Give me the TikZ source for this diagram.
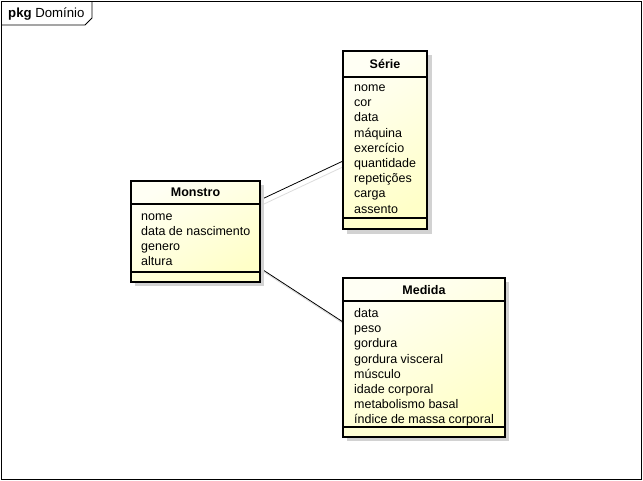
\documentclass[tikz,border=0pt]{standalone}
\usepackage{fontspec}
\setmainfont{Liberation Sans}
\usetikzlibrary{calc}
\definecolor{clsTop}{HTML}{FFFFF4}
\definecolor{clsBot}{HTML}{FFFFC8}
\definecolor{shadowGray}{HTML}{D2D2D2}
\definecolor{lineShadow}{HTML}{DCDCDC}
\begin{document}
\begin{tikzpicture}[x=1pt,y=-1pt,
  classbox/.style={draw=black, line width=1.6pt, shading=axis, top color=clsTop, bottom color=clsBot, shading angle=30,
     inner sep=0pt, outer sep=0pt, anchor=north west},
  boxshadow/.style={fill=shadowGray, draw=none},
  sepline/.style={draw=black, line width=1.1pt},
  attr/.style={anchor=base west, inner sep=0pt, font=\fontsize{12.5}{14}\selectfont},
  ctitle/.style={anchor=base, inner sep=0pt, font=\fontsize{12.5}{14}\selectfont\bfseries},
  assoc/.style={draw=black, line width=0.8pt},
  assocshadow/.style={draw=lineShadow, line width=0.8pt}]

\useasboundingbox (0,0) rectangle (643,480);
\fill[white] (0,0) rectangle (643,480);

% package frame
\node[draw=black, line width=0.9pt, minimum width=640pt, minimum height=478pt, inner sep=0pt, anchor=north west] (frame) at (1,1) {};
\draw[line width=0.9pt] (1,25) -- (85,25) -- (92,18) -- (92,1);
\node[anchor=base west, inner sep=0pt, font=\fontsize{13.2}{15}\selectfont] (ptitle) at (8,17.5) {\textbf{pkg} Domínio};

% connector coordinates
\coordinate (m1) at (260,200);
\coordinate (m2) at (260,268);
\coordinate (s1) at (343,161);
\coordinate (d1) at (343,322);

% connector shadows
\draw[assocshadow] ($(m1)+(4,4)$) -- ($(s1)+(4,4)$);
\draw[assocshadow] ($(m2)+(4,4)$) -- ($(d1)+(4,4)$);
% connectors
\draw[assoc] (m1) -- (s1);
\draw[assoc] (m2) -- (d1);

% ---- Série ----
\fill[boxshadow] (347,55) rectangle (432,234);
\node[classbox, minimum width=84pt, minimum height=178pt] (serie) at (343,51) {};
\draw[sepline] (343,77) -- (427,77);
\draw[sepline] (343,218) -- (427,218);
\node[ctitle] (serieT) at (385,68.5) {Série};
\foreach \t [count=\i from 0] in {nome,cor,data,máquina,exercício,quantidade,repetições,carga,assento}
  \node[attr] (serieA\i) at (354,{91.5+15.2*\i}) {\t};

% ---- Monstro ----
\fill[boxshadow] (135,185) rectangle (264,286);
\node[classbox, minimum width=129pt, minimum height=101pt] (mon) at (131,181) {};
\draw[sepline] (131,204) -- (260,204);
\draw[sepline] (131,272) -- (260,272);
\node[ctitle] (monT) at (195.5,196.5) {Monstro};
\foreach \t [count=\i from 0] in {nome,data de nascimento,genero,altura}
  \node[attr] (monA\i) at (141,{220.5+15.1*\i}) {\t};

% ---- Medida ----
\fill[boxshadow] (347,282) rectangle (509,441);
\node[classbox, minimum width=162pt, minimum height=159pt] (med) at (343,278) {};
\draw[sepline] (343,301) -- (505,301);
\draw[sepline] (343,427) -- (505,427);
\node[ctitle] (medT) at (424,294.5) {Medida};
\foreach \t [count=\i from 0] in {data,peso,gordura,gordura visceral,músculo,idade corporal,metabolismo basal,índice de massa corporal}
  \node[attr] (medA\i) at (354,{317.5+15.2*\i}) {\t};

\end{tikzpicture}
\end{document}
